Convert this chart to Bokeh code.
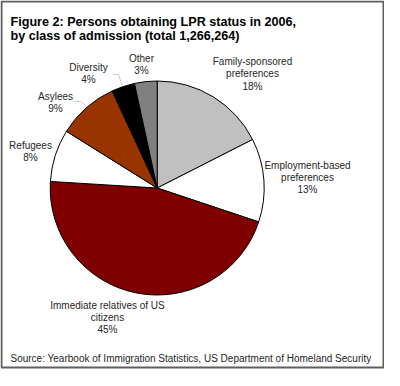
from bokeh.plotting import figure
from bokeh.models import Range1d, ColumnDataSource
from bokeh.embed import file_html
from bokeh.resources import INLINE
from bokeh.core.properties import value
import math

# ---- data ----
categories = ["Family-sponsored\npreferences", "Employment-based\npreferences",
              "Immediate relatives of US\ncitizens", "Refugees", "Asylees",
              "Diversity", "Other"]
shares = [17.5, 12.6, 45.8, 7.9, 9.2, 3.5, 3.4]
pct_labels = ["18%", "13%", "45%", "8%", "9%", "4%", "3%"]
slice_colors = ["#C0C0C0", "#FFFFFF", "#800000", "#FFFFFF", "#993300", "#000000", "#808080"]
title_lines = ["Figure 2: Persons obtaining LPR status in 2006,",
               "by class of admission (total 1,266,264)"]
source_note = "Source: Yearbook of Immigration Statistics, US Department of Homeland Security"

# ---- layout (pixel positions, y measured downward) ----
W, H = 384, 370
def Y(ry):
    return H - ry

cx, cy, R = 156.7, 187.5, 107
label_pos = [(252, 61), (307, 164.5), (107, 304.5), (30, 145), (55, 95.5), (88, 66.5), (141, 58)]
line_gap = 12.4
FONT = value("Liberation Sans")

p = figure(width=W, height=H, x_range=Range1d(0, W), y_range=Range1d(0, H),
           output_backend="svg", toolbar_location=None, min_border=0)
p.axis.visible = False
p.grid.visible = False
p.outline_line_color = None
p.background_fill_color = "white"
p.border_fill_color = "white"

# border box
p.quad(left=[1], right=[W - 1], top=[Y(1)], bottom=[Y(367)],
       fill_color=None, line_color="#5f5f5f", line_width=2)

# pie
total = sum(shares)
starts, ends = [], []
acc = 0.0
for s in shares:
    a0 = acc / total
    acc += s
    a1 = acc / total
    starts.append(math.pi / 2 - 2 * math.pi * a0)
    ends.append(math.pi / 2 - 2 * math.pi * a1)
src = ColumnDataSource(dict(start=starts, end=ends, color=slice_colors))
p.wedge(x=cx, y=Y(cy), radius=R, start_angle="start", end_angle="end",
        direction="clock", fill_color="color", line_color="black",
        line_width=1, source=src)

# leader lines
p.line([113, 118, 121.5], [Y(74), Y(74), Y(84.5)], line_color="#c8c8c8", line_width=1)
p.line([74, 80, 86], [Y(101), Y(101), Y(106)], line_color="#c8c8c8", line_width=1)

# slice labels
xs, ys, ts = [], [], []
for cat, pct, (lx, ly) in zip(categories, pct_labels, label_pos):
    lines = cat.split("\n") + [pct]
    for i, t in enumerate(lines):
        xs.append(lx)
        ys.append(Y(ly + i * line_gap))
        ts.append(t)
p.text(x=xs, y=ys, text=ts, text_align="center", text_baseline="middle",
       text_font=FONT, text_font_size="10px", text_color="#262626")

# title
p.text(x=[10, 10], y=[Y(21.5), Y(35.5)], text=title_lines, text_align="left",
       text_baseline="alphabetic", text_font=FONT, text_font_size="12.6px",
       text_font_style="bold", text_color="black")

# source
p.text(x=[10], y=[Y(357.5)], text=[source_note], text_align="left",
       text_baseline="middle", text_font=FONT, text_font_size="10px",
       text_color="#262626")

open("out.html", "w").write(file_html(p, INLINE))
